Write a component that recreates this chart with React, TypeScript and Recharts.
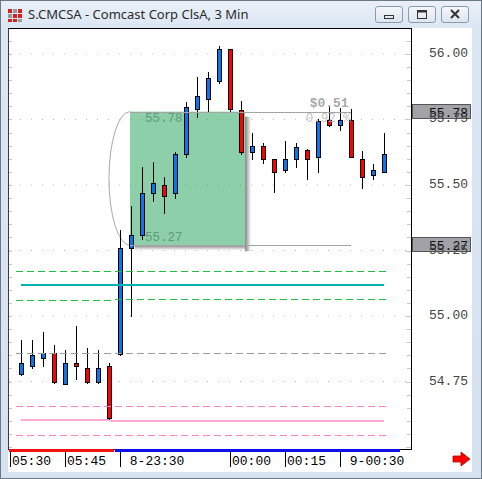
import React from "react";
import {
  ComposedChart,
  Bar,
  XAxis,
  YAxis,
  CartesianGrid,
  ReferenceLine,
  ReferenceArea,
} from "recharts";

// 3 min bars, index 0 = first visible bar
const barIndex = [
  0, 1, 2, 3, 4, 5, 6, 7, 8, 9, 10, 11, 12, 13, 14, 15, 16,
  17, 18, 19, 20, 21, 22, 23, 24, 25, 26, 27, 28, 29, 30, 31, 32, 33,
];
const opens = [
  54.78, 54.81, 54.84, 54.857, 54.74, 54.82, 54.8, 54.747, 54.808, 54.856,
  55.258, 55.308, 55.468, 55.499, 55.468, 55.617, 55.79, 55.829, 55.898, 56.018,
  55.787, 55.627, 55.648, 55.598, 55.556, 55.598, 55.635, 55.606, 55.747, 55.728,
  55.747, 55.598, 55.537, 55.548,
];
const highs = [
  54.91, 54.91, 54.94, 54.889, 54.87, 54.96, 54.877, 54.87, 54.822, 55.33,
  55.42, 55.569, 55.588, 55.529, 55.627, 55.817, 55.911, 55.93, 56.031, 56.02,
  55.821, 55.698, 55.659, 55.6, 55.668, 55.661, 55.637, 55.75, 55.8, 55.794,
  55.79, 55.63, 55.58, 55.698,
];
const lows = [
  54.775, 54.8, 54.81, 54.745, 54.74, 54.76, 54.743, 54.743, 54.608, 54.85,
  55.0, 55.293, 55.44, 55.392, 55.452, 55.608, 55.761, 55.779, 55.89, 55.779,
  55.619, 55.6, 55.583, 55.472, 55.551, 55.57, 55.522, 55.551, 55.727, 55.71,
  55.605, 55.49, 55.522, 55.548,
];
const closes = [
  54.82, 54.85, 54.86, 54.747, 54.82, 54.808, 54.747, 54.8, 54.61, 55.26,
  55.308, 55.468, 55.508, 55.458, 55.617, 55.798, 55.84, 55.91, 56.018, 55.79,
  55.627, 55.649, 55.598, 55.548, 55.598, 55.646, 55.598, 55.745, 55.728, 55.747,
  55.606, 55.529, 55.556, 55.617,
];

const timeTicks = [-1, 4, 9, 19, 24, 29];
const timeLabels = ["05:30", "05:45", " 8-23:30", "00:00", "00:15", " 9-00:30"];
const priceLabels = [54.75, 55.0, 55.25, 55.5, 55.75, 56.0];
const minorTicks = [
  54.5, 54.55, 54.6, 54.65, 54.7, 54.75, 54.8, 54.85, 54.9, 54.95, 55.0,
  55.05, 55.1, 55.15, 55.2, 55.25, 55.3, 55.35, 55.4, 55.45, 55.5, 55.55,
  55.6, 55.65, 55.7, 55.75, 55.8, 55.85, 55.9, 55.95, 56.0, 56.05,
];

// drawn price levels
const greenUpper = 55.171;
const tealLevel = 55.119;
const greenLower = [55.061, 55.065];
const grayLevel = 54.858;
const pinkUpper = 54.656;
const pinkSolid = [54.603, 54.6];
const pinkLower = 54.545;

// measure box
const boxTop = 55.78;
const boxBottom = 55.27;
const boxFrom = 9.88;
const boxTo = 20.34;
const measureEnd = 29.94;

const rows = barIndex.map((i, k) => ({
  i,
  range: [lows[k], highs[k]],
  open: opens[k],
  high: highs[k],
  low: lows[k],
  close: closes[k],
}));

const mono = "'Liberation Mono', 'DejaVu Sans Mono', monospace";

function Candle(props: any) {
  const { x, y, width, height, payload } = props;
  if (!payload) return null;
  const { open, close, high, low } = payload;
  const yTop = Math.min(y, y + height);
  const h = Math.abs(height);
  const span = high - low || 1;
  const py = (v: number) => yTop + ((high - v) / span) * h;
  const cx = Math.floor(x + width / 2) + 0.5;
  const t = Math.round(py(Math.max(open, close))) + 0.5;
  const b = Math.round(py(Math.min(open, close))) + 0.5;
  const up = close >= open;
  return (
    <g>
      <line x1={cx} x2={cx} y1={Math.round(yTop)} y2={Math.round(yTop + h) + 1} stroke="#000" />
      <rect
        x={cx - 2}
        y={t}
        width={4}
        height={Math.max(b - t, 2)}
        fill={up ? "#0a76ee" : "#ff0000"}
        stroke="#000"
      />
    </g>
  );
}

// level line snapped to the pixel grid so dashes stay sharp
function CrispLine(props: any) {
  const { x1, x2, y1, stroke, strokeWidth, strokeDasharray } = props;
  const w = Number(strokeWidth) || 1;
  const yy = w % 2 === 1 ? Math.round(y1) + 0.5 : Math.round(y1);
  return (
    <line
      x1={Math.round(x1)}
      x2={Math.round(x2)}
      y1={yy}
      y2={yy}
      stroke={stroke}
      strokeWidth={w}
      strokeDasharray={strokeDasharray}
    />
  );
}

function TimeTick(props: any) {
  const { x, y, payload } = props;
  const k = timeTicks.indexOf(payload.value);
  const px = Math.round(x) + 0.5;
  return (
    <g>
      <line x1={px} x2={px} y1={y + 3} y2={y + 18} stroke="#000" />
      <text
        x={px + 1.5}
        y={y + 15.5}
        fontFamily={mono}
        fontSize={13}
        fill="#000"
        style={{ whiteSpace: "pre" }}
      >
        {k >= 0 ? timeLabels[k] : ""}
      </text>
    </g>
  );
}

const isMajor = (v: number) => Math.abs(v * 4 - Math.round(v * 4)) < 1e-6;

function PriceTick(props: any) {
  const { x, y, payload } = props;
  const v = payload.value;
  const py = Math.round(y) + 0.5;
  return (
    <g>
      <line x1={x - (isMajor(v) ? 5 : 4)} x2={x} y1={py} y2={py} stroke="#c8c8c8" />
      {isMajor(v) && priceLabels.includes(v) ? (
        <text x={x + 57} y={y + 3} textAnchor="end" fontFamily={mono} fontSize={13} fill="#444">
          {v.toFixed(2)}
        </text>
      ) : null}
    </g>
  );
}

function EdgeTick(props: any) {
  const { x, y } = props;
  const py = Math.round(y) + 0.5;
  return <line x1={x} x2={x + 3} y1={py} y2={py} stroke="#c8c8c8" />;
}

function MeasureBox(props: any) {
  const { x, y, width, height } = props;
  return (
    <g>
      <defs>
        <linearGradient id="shR" x1="0" y1="0" x2="1" y2="0">
          <stop offset="0%" stopColor="#6e6e6e" stopOpacity={0.85} />
          <stop offset="100%" stopColor="#6e6e6e" stopOpacity={0} />
        </linearGradient>
        <linearGradient id="shB" x1="0" y1="0" x2="0" y2="1">
          <stop offset="0%" stopColor="#6e6e6e" stopOpacity={0.85} />
          <stop offset="100%" stopColor="#6e6e6e" stopOpacity={0} />
        </linearGradient>
      </defs>
      <path
        d={`M ${x} ${y} A 21 ${height / 2} 0 0 0 ${x} ${y + height}`}
        fill="none"
        stroke="#a8a8a8"
      />
      <rect x={x + width} y={y + 5} width={6} height={height + 1} fill="url(#shR)" />
      <rect x={x + 5} y={y + height} width={width - 5} height={5} fill="url(#shB)" />
      <rect x={x} y={y} width={width} height={height} fill="rgb(13,154,73)" fillOpacity={0.47} />
      <text x={x + 15} y={y + 10} fontFamily={mono} fontSize={12.5} fill="#5e9a7c">
        {boxTop.toFixed(2)}
      </text>
      <text x={x + 15} y={y + height - 4} fontFamily={mono} fontSize={12.5} fill="#5e9a7c">
        {boxBottom.toFixed(2)}
      </text>
    </g>
  );
}

function MeasureLabel(props: any) {
  const vb = props.viewBox || {};
  const right = (vb.x || 0) + (vb.width || 0);
  const diff = boxTop - boxBottom;
  const pct = (diff / boxBottom) * 100;
  return (
    <g>
      <text x={right - 2} y={vb.y - 5} textAnchor="end" fontFamily={mono} fontSize={13} fontWeight="bold" fill="#a9a9a9">
        {"$" + diff.toFixed(2)}
      </text>
      <text x={right} y={vb.y + 10.5} textAnchor="end" fontFamily={mono} fontSize={12.5} fill="#b4b4b4" fillOpacity={0.85} style={{ whiteSpace: "pre" }}>
        {pct.toFixed(2) + " %"}
      </text>
    </g>
  );
}

function PriceTag(props: any) {
  const vb = props.viewBox || {};
  const right = (vb.x || 0) + (vb.width || 0);
  const py = Math.round(vb.y);
  return (
    <g>
      <rect x={right + 1.5} y={py - 7.5} width={58} height={14} fill="#a2a2a8" stroke="#555" />
      <text x={right + 57} y={py + 4.5} textAnchor="end" fontFamily={mono} fontSize={13} fill="#111">
        {props.value}
      </text>
    </g>
  );
}

function WinButton({ left, kind }: { left: number; kind: string }) {
  return (
    <div
      style={{
        position: "absolute",
        left,
        top: 6,
        width: 28,
        height: 17,
        boxSizing: "border-box",
        border: "1px solid #8c9aae",
        borderRadius: 3,
        background: "linear-gradient(#f4f7fb, #dde5ef)",
      }}
    >
      <svg width={26} height={15} style={{ position: "absolute", left: 0, top: 0 }}>
        {kind === "min" && <rect x={8.5} y={8.5} width={9} height={3} fill="none" stroke="#333" />}
        {kind === "max" && (
          <g>
            <rect x={8.5} y={3.5} width={9} height={8} fill="none" stroke="#333" />
            <rect x={8.5} y={3.5} width={9} height={2} fill="#333" />
          </g>
        )}
        {kind === "close" && (
          <path d="M9 3 L17 11 M17 3 L9 11" stroke="#333" strokeWidth={2} />
        )}
      </svg>
    </div>
  );
}

export default function App() {
  return (
    <div
      style={{
        position: "absolute",
        left: 0,
        top: 0,
        width: 482,
        height: 479,
        overflow: "hidden",
        background: "#dae5f2",
      }}
    >
      <div
        style={{
          position: "absolute",
          inset: 0,
          boxSizing: "border-box",
          border: "1px solid #6c7886",
          background: "linear-gradient(#e9f0f8 0px, #dbe6f3 28px, #d6e2f0 100%)",
        }}
      />
      <svg width={18} height={16} style={{ position: "absolute", left: 7, top: 7 }}>
        <rect x={1} y={2} width={4} height={4} fill="#d62020" />
        <rect x={6} y={2} width={4} height={4} fill="#9a9a9a" />
        <rect x={11} y={2} width={4} height={4} fill="#d62020" />
        <rect x={1} y={7} width={4} height={4} fill="#9a9a9a" />
        <rect x={6} y={7} width={4} height={4} fill="#d62020" />
        <rect x={11} y={7} width={4} height={4} fill="#d62020" />
        <rect x={1} y={12} width={4} height={3} fill="#d62020" />
        <rect x={6} y={12} width={4} height={3} fill="#d62020" />
        <rect x={11} y={12} width={4} height={3} fill="#9a9a9a" />
      </svg>
      <div
        style={{
          position: "absolute",
          left: 28,
          top: 5,
          fontFamily: "'Noto Sans', 'DejaVu Sans', sans-serif",
          fontSize: 13,
          color: "#2b2b2b",
          whiteSpace: "nowrap",
        }}
      >
        S.CMCSA - Comcast Corp ClsA, 3 Min
      </div>
      <WinButton left={375} kind="min" />
      <WinButton left={408} kind="max" />
      <WinButton left={441} kind="close" />

      <div style={{ position: "absolute", left: 8, top: 28, width: 464, height: 444, background: "#fff" }} />

      <div style={{ position: "absolute", left: 0, top: 0 }}>
        <ComposedChart
          width={482}
          height={479}
          data={rows}
          margin={{ top: 29, right: 10, left: 0, bottom: 0 }}
        >
          <CartesianGrid
            vertical={false}
            horizontalValues={priceLabels}
            stroke="#c4c4c4"
            strokeDasharray="1 10"
          />
          <XAxis
            dataKey="i"
            type="number"
            domain={[-1.118, 35.427]}
            allowDataOverflow
            ticks={timeTicks}
            interval={0}
            height={30}
            tickSize={0}
            tickMargin={0}
            axisLine={false}
            tickLine={false}
            tick={<TimeTick />}
          />
          <XAxis xAxisId="c" dataKey="i" type="category" hide padding={{ left: 6.8, right: 21.2 }} />
          <YAxis
            orientation="right"
            type="number"
            domain={[54.4924, 56.0954]}
            allowDataOverflow
            ticks={minorTicks}
            interval={0}
            width={61}
            tickSize={0}
            tickMargin={0}
            axisLine={false}
            tickLine={false}
            tick={<PriceTick />}
          />
          <YAxis
            yAxisId="edge"
            orientation="left"
            type="number"
            domain={[54.4924, 56.0954]}
            allowDataOverflow
            ticks={minorTicks}
            interval={0}
            width={9}
            tickSize={0}
            tickMargin={0}
            axisLine={false}
            tickLine={false}
            tick={<EdgeTick />}
          />

          <ReferenceLine segment={[{ x: -0.48, y: greenUpper }, { x: 33.45, y: greenUpper }]} stroke="#1fbf45" strokeDasharray="7 4" shape={<CrispLine />} />
          <ReferenceLine segment={[{ x: 0, y: tealLevel }, { x: 33, y: tealLevel }]} stroke="#00b2b4" strokeWidth={2} shape={<CrispLine />} />
          <ReferenceLine segment={[{ x: -0.48, y: greenLower[0] }, { x: 8.45, y: greenLower[0] }]} stroke="#1fbf45" strokeDasharray="7 4" shape={<CrispLine />} />
          <ReferenceLine segment={[{ x: 8.55, y: greenLower[1] }, { x: 33.45, y: greenLower[1] }]} stroke="#1fbf45" strokeDasharray="7 4" shape={<CrispLine />} />
          <ReferenceLine segment={[{ x: -0.48, y: grayLevel }, { x: 33.45, y: grayLevel }]} stroke="#9c9c9c" strokeDasharray="7 4" shape={<CrispLine />} />
          <ReferenceLine segment={[{ x: -0.48, y: pinkUpper }, { x: 33.45, y: pinkUpper }]} stroke="#ff80c0" strokeDasharray="7 4" shape={<CrispLine />} />
          <ReferenceLine segment={[{ x: 0, y: pinkSolid[0] }, { x: 8, y: pinkSolid[0] }]} stroke="#fcaad4" strokeWidth={2} shape={<CrispLine />} />
          <ReferenceLine segment={[{ x: 8.05, y: pinkSolid[1] }, { x: 33, y: pinkSolid[1] }]} stroke="#fcaad4" strokeWidth={2} shape={<CrispLine />} />
          <ReferenceLine segment={[{ x: -0.48, y: pinkLower }, { x: 33.45, y: pinkLower }]} stroke="#ff80c0" strokeDasharray="7 4" shape={<CrispLine />} />

          <ReferenceLine segment={[{ x: boxFrom, y: boxBottom }, { x: measureEnd, y: boxBottom }]} stroke="#a4a4a4" shape={<CrispLine />} />

          <Bar
            xAxisId="c"
            dataKey="range"
            barSize={5}
            shape={<Candle />}
            isAnimationActive={false}
          />

          <ReferenceArea
            x1={boxFrom}
            x2={boxTo}
            y1={boxBottom}
            y2={boxTop}
            shape={<MeasureBox />}
            ifOverflow="visible"
          />
          <ReferenceLine
            segment={[{ x: boxFrom, y: boxTop }, { x: measureEnd, y: boxTop }]}
            stroke="#a4a4a4"
            shape={<CrispLine />}
            label={<MeasureLabel />}
          />

          <ReferenceLine y={boxTop} strokeWidth={0} stroke="none" label={<PriceTag value={boxTop.toFixed(2)} />} />
          <ReferenceLine y={boxBottom} strokeWidth={0} stroke="none" label={<PriceTag value={boxBottom.toFixed(2)} />} />
        </ComposedChart>
      </div>

      <div
        style={{
          position: "absolute",
          left: 8,
          top: 28,
          width: 404,
          height: 422,
          boxSizing: "border-box",
          borderTop: "1px solid #000",
          borderRight: "1px solid #000",
          borderBottom: "1px solid #000",
          borderLeft: "1px solid #3c3c3c",
          pointerEvents: "none",
        }}
      />
      <div style={{ position: "absolute", left: 9, top: 449, width: 105, height: 3, background: "#f01010" }} />
      <div style={{ position: "absolute", left: 115, top: 449, width: 285, height: 3, background: "#1010e6" }} />

      <svg width={20} height={16} style={{ position: "absolute", left: 452, top: 451 }}>
        <path d="M1 5 L9 5 L9 1 L18 8 L9 15 L9 11 L1 11 Z" fill="#ff0000" stroke="#b00000" strokeWidth={0.8} />
      </svg>
    </div>
  );
}
